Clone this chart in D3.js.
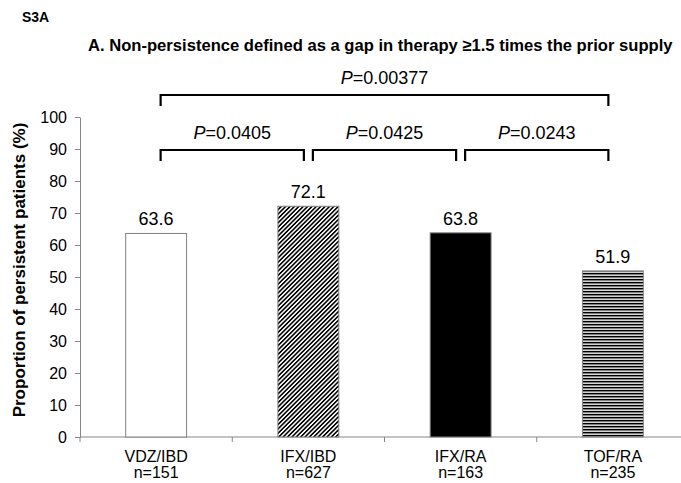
<!DOCTYPE html>
<html>
<head>
<meta charset="utf-8">
<script src="https://cdn.jsdelivr.net/npm/d3@7"></script>
<style>
  html, body { margin: 0; padding: 0; background: #fff; }
  svg { display: block; font-family: "Liberation Sans", Arial, sans-serif; }
</style>
</head>
<body>
<svg id="chart" width="681" height="483"></svg>
<script>
// ---- data ----
const categories = ["VDZ/IBD", "IFX/IBD", "IFX/RA", "TOF/RA"];
const sampleSizes = ["n=151", "n=627", "n=163", "n=235"];
const persistence = [63.6, 72.1, 63.8, 51.9];
const yTicks = [0, 10, 20, 30, 40, 50, 60, 70, 80, 90, 100];
const comparisonFrom = [0, 1, 2, 0];
const comparisonTo = [1, 2, 3, 3];
const comparisonP = ["0.0405", "0.0425", "0.0243", "0.00377"];
const comparisonLevel = [0, 0, 0, 1];

// ---- layout ----
const svg = d3.select("#chart");
const x = d3.scaleBand().domain(categories).range([80, 689]).paddingInner(0).paddingOuter(0);
const y = d3.scaleLinear().domain([0, 100]).range([437, 117]);
const bw = x.bandwidth() * 0.4;
const cx = c => x(c) + x.bandwidth() / 2;

// patterns
const defs = svg.append("defs");
const diag = defs.append("pattern").attr("id", "diag")
  .attr("patternUnits", "userSpaceOnUse").attr("width", 3.1).attr("height", 3.1)
  .attr("patternTransform", "rotate(45)");
diag.append("rect").attr("width", 3.1).attr("height", 3.1).attr("fill", "#fff");
diag.append("line").attr("x1", 0.8).attr("y1", 0).attr("x2", 0.8).attr("y2", 3.1)
  .attr("stroke", "#000").attr("stroke-width", 1.6);

const horiz = defs.append("pattern").attr("id", "horiz")
  .attr("patternUnits", "userSpaceOnUse").attr("width", 6).attr("height", 3);
horiz.append("rect").attr("width", 6).attr("height", 3).attr("fill", "#d4d4d4");
horiz.append("rect").attr("y", 0).attr("width", 6).attr("height", 1.4).attr("fill", "#000");

const fills = ["#ffffff", "url(#diag)", "#000000", "url(#horiz)"];

// ---- texts ----
svg.append("text").attr("x", 22).attr("y", 22)
  .attr("font-size", 14).attr("font-weight", "bold").attr("fill", "#000").text("S3A");

svg.append("text").attr("x", 88).attr("y", 51)
  .attr("font-size", 16.6).attr("font-weight", "bold").attr("fill", "#000")
  .text("A. Non-persistence defined as a gap in therapy \u22651.5 times the prior supply");

svg.append("text")
  .attr("transform", "translate(25,270) rotate(-90)")
  .attr("text-anchor", "middle")
  .attr("font-size", 17).attr("font-weight", "bold").attr("fill", "#000")
  .text("Proportion of persistent patients (%)");

// ---- axes ----
const yAxis = d3.axisLeft(y).tickValues(yTicks).tickSize(5).tickPadding(8).tickSizeOuter(0);
const gy = svg.append("g").attr("transform", "translate(80,0)").call(yAxis);
gy.select(".domain").attr("stroke", "#868686");
gy.selectAll(".tick line").attr("stroke", "#868686");
gy.selectAll(".tick text").attr("font-size", 16).attr("fill", "#000")
  .attr("font-family", "Liberation Sans, Arial, sans-serif");

// x axis baseline & boundary ticks
const gx = svg.append("g");
gx.append("line").attr("x1", 80).attr("x2", 689).attr("y1", y(0)).attr("y2", y(0))
  .attr("stroke", "#868686");
const boundaries = categories.map(c => x(c)).concat([x(categories[categories.length - 1]) + x.bandwidth()]);
gx.selectAll("line.xt").data(boundaries).join("line").attr("class", "xt")
  .attr("x1", d => d).attr("x2", d => d).attr("y1", y(0)).attr("y2", y(0) + 5)
  .attr("stroke", "#868686");

// category labels
const lab = svg.append("g").attr("font-size", 16).attr("fill", "#000").attr("text-anchor", "middle");
lab.selectAll("text.cat").data(categories).join("text").attr("class", "cat")
  .attr("x", d => cx(d)).attr("y", 462).text(d => d);
lab.selectAll("text.n").data(sampleSizes).join("text").attr("class", "n")
  .attr("x", (d, i) => cx(categories[i])).attr("y", 478).text(d => d);

// ---- bars ----
svg.append("g").selectAll("rect").data(persistence).join("rect")
  .attr("x", (d, i) => cx(categories[i]) - bw / 2)
  .attr("width", bw)
  .attr("y", d => y(d))
  .attr("height", d => y(0) - y(d))
  .attr("fill", (d, i) => fills[i])
  .attr("stroke", "#808080").attr("stroke-width", 1);

svg.append("g").attr("font-size", 18).attr("text-anchor", "middle").attr("fill", "#000")
  .selectAll("text").data(persistence).join("text")
  .attr("x", (d, i) => cx(categories[i]))
  .attr("y", d => y(d) - 8)
  .text(d => d.toFixed(1));

// ---- significance brackets ----
const levelY = [150, 95];
const br = svg.append("g");
comparisonP.forEach((p, i) => {
  const x1 = cx(categories[comparisonFrom[i]]) + 4.5;
  const x2 = cx(categories[comparisonTo[i]]) - 4.5;
  const yy = levelY[comparisonLevel[i]];
  br.append("path")
    .attr("d", `M${x1},${yy + 11}V${yy}H${x2}V${yy + 11}`)
    .attr("fill", "none").attr("stroke", "#000").attr("stroke-width", 2.2);
  const t = br.append("text").attr("x", (x1 + x2) / 2).attr("y", yy - 11)
    .attr("text-anchor", "middle").attr("font-size", 18).attr("fill", "#000");
  t.append("tspan").attr("font-style", "italic").text("P");
  t.append("tspan").text("=" + p);
});
</script>
</body>
</html>
